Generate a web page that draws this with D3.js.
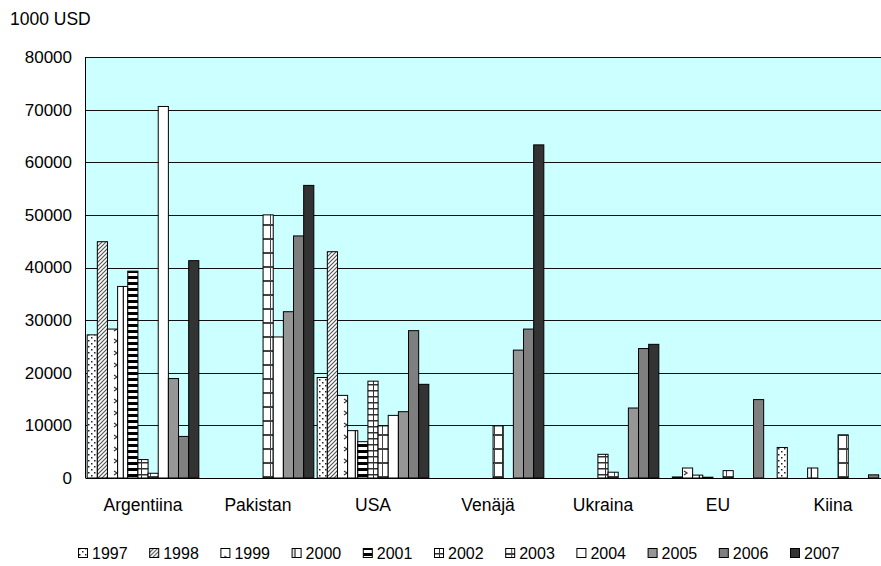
<!DOCTYPE html>
<html>
<head>
<meta charset="utf-8">
<script src="https://cdn.jsdelivr.net/npm/d3@7"></script>
<style>
  body { margin: 0; background: #fff; }
  svg { display: block; font-family: "Liberation Sans", Arial, sans-serif; }
</style>
</head>
<body>
<script>
const years = ["1997", "1998", "1999", "2000", "2001", "2002", "2003", "2004", "2005", "2006", "2007"]
const countries = ["Argentiina", "Pakistan", "USA", "Venäjä", "Ukraina", "EU", "Kiina"]

// values per country, one per year 1997..2007 (1000 USD)
const argentiina = [27200, 44900, 28300, 36400, 39300, 3500, 900, 70600, 18900, 7900, 41300]
const pakistan = [0, 0, 0, 0, 0, 0, 50000, 26800, 31600, 46000, 55600]
const usa = [19100, 43000, 15700, 9000, 6900, 18400, 9900, 11900, 12600, 28000, 17800]
const venaja = [0, 0, 0, 0, 0, 0, 9900, 0, 24300, 28300, 63300]
const ukraina = [0, 0, 0, 0, 0, 4500, 1100, 0, 13300, 24600, 25400]
const eu = [0, 200, 1900, 550, 150, 0, 1400, 0, 0, 14900, 0]
const kiina = [5800, 0, 0, 1900, 0, 0, 8200, 0, 0, 600, 0]

const yTicks = [0, 10000, 20000, 30000, 40000, 50000, 60000, 70000, 80000]

const values = [argentiina, pakistan, usa, venaja, ukraina, eu, kiina]
const dataset = []
countries.forEach((c, i) => {
    years.forEach((y, j) => {
        dataset.push({ country: c, year: y, value: values[i][j] })
    })
})

const w = 881
const h = 566
const pLeft = 85.5
const pTop = 57
const pBottom = 478
const groupW = 115

const svg = d3.select("body")
              .append("svg")
              .attr("width", w)
              .attr("height", h)

// fill patterns for the years
const defs = svg.append("defs")
const pat = (id, pw, ph, draw) => {
    const p = defs.append("pattern")
                  .attr("id", id)
                  .attr("patternUnits", "userSpaceOnUse")
                  .attr("width", pw)
                  .attr("height", ph)
    p.append("rect").attr("width", pw).attr("height", ph).attr("fill", "#fff")
    draw(p)
}
pat("p1997", 6, 6, (p) => {
    p.append("rect").attr("x", 1).attr("y", 1).attr("width", 1.5).attr("height", 1.5).attr("fill", "#222")
    p.append("rect").attr("x", 4).attr("y", 4).attr("width", 1.5).attr("height", 1.5).attr("fill", "#222")
})
pat("p1998", 4, 4, (p) => {
    p.append("path").attr("d", "M-1,5 L5,-1 M-1,1 L1,-1 M3,5 L5,3").attr("stroke", "#555").attr("stroke-width", 1.2)
})
pat("p1999", 10, 12, (p) => {
    p.append("path").attr("d", "M4,3 L7,5 L4,7").attr("fill", "none").attr("stroke", "#333").attr("stroke-width", 1.2)
})
pat("p2000", 8, 8, (p) => {
    p.append("rect").attr("x", 3).attr("y", 0).attr("width", 1).attr("height", 8).attr("fill", "#222")
    p.append("rect").attr("x", 2).attr("y", 0).attr("width", 1).attr("height", 8).attr("fill", "#bbb")
})
pat("p2001", 6, 6, (p) => {
    p.append("rect").attr("x", 0).attr("y", 0).attr("width", 6).attr("height", 3).attr("fill", "#000")
})
pat("p2002", 8, 6, (p) => {
    p.append("rect").attr("x", 0).attr("y", 0).attr("width", 8).attr("height", 1.5).attr("fill", "#333")
    p.append("rect").attr("x", 5).attr("y", 0).attr("width", 1).attr("height", 6).attr("fill", "#333")
})
pat("p2003", 8, 14, (p) => {
    p.append("rect").attr("x", 0).attr("y", 0).attr("width", 8).attr("height", 2).attr("fill", "#444")
    p.append("rect").attr("x", 6).attr("y", 0).attr("width", 1).attr("height", 14).attr("fill", "#444")
})

const fills = {
    "1997": "url(#p1997)", "1998": "url(#p1998)", "1999": "url(#p1999)",
    "2000": "url(#p2000)", "2001": "url(#p2001)", "2002": "url(#p2002)",
    "2003": "url(#p2003)", "2004": "#ffffff", "2005": "#969696",
    "2006": "#7f7f7f", "2007": "#333333"
}

const xScale = d3.scaleBand()
                 .domain(countries)
                 .range([pLeft, pLeft + groupW * countries.length])
const x1 = d3.scaleBand()
             .domain(years)
             .range([0, groupW])
             .paddingOuter(0.165)
const yScale = d3.scaleLinear()
                 .domain([0, 80000])
                 .range([pBottom, pTop])

// plot background
svg.append("rect")
   .attr("x", pLeft)
   .attr("y", pTop)
   .attr("width", w - pLeft)
   .attr("height", pBottom - pTop)
   .attr("fill", "#ccffff")

svg.append("g")
   .selectAll("line")
   .data(yTicks.filter((d) => d > 0))
   .enter()
   .append("line")
   .attr("x1", pLeft)
   .attr("x2", w)
   .attr("y1", (d) => Math.round(yScale(d)) + 0.5)
   .attr("y2", (d) => Math.round(yScale(d)) + 0.5)
   .attr("stroke", "#111")

svg.append("g")
   .selectAll("rect")
   .data(dataset.filter((d) => d.value > 0))
   .enter()
   .append("rect")
   .attr("x", (d) => xScale(d.country) + x1(d.year))
   .attr("y", (d) => yScale(d.value))
   .attr("width", x1.bandwidth())
   .attr("height", (d) => pBottom - yScale(d.value))
   .attr("fill", (d) => fills[d.year])
   .attr("stroke", "#000")
   .attr("stroke-width", 1)

// axes lines
svg.append("line")
   .attr("x1", pLeft).attr("x2", pLeft)
   .attr("y1", pTop).attr("y2", pBottom)
   .attr("stroke", "#000")
svg.append("line")
   .attr("x1", pLeft).attr("x2", w)
   .attr("y1", pBottom + 0.5).attr("y2", pBottom + 0.5)
   .attr("stroke", "#000")

svg.append("g")
   .selectAll("text")
   .data(yTicks)
   .enter()
   .append("text")
   .attr("x", 72)
   .attr("y", (d) => yScale(d))
   .attr("dy", "0.35em")
   .attr("text-anchor", "end")
   .style("font-size", "17px")
   .text((d) => d)

svg.append("g")
   .selectAll("text")
   .data(countries)
   .enter()
   .append("text")
   .attr("x", (d) => xScale(d) + groupW / 2)
   .attr("y", 505)
   .attr("dy", "0.35em")
   .attr("text-anchor", "middle")
   .style("font-size", "17.5px")
   .text((d) => d)

svg.append("text")
   .attr("x", 10)
   .attr("y", 19)
   .attr("dy", "0.35em")
   .style("font-size", "17.5px")
   .text("1000 USD")

// legend
const legend = svg.append("g")
                  .selectAll("g")
                  .data(years)
                  .enter()
                  .append("g")
                  .attr("transform", (d, i) => "translate(" + (78 + i * 71.2) + ", 553)")
legend.append("rect")
      .attr("x", 0.5)
      .attr("y", -4.5)
      .attr("width", 9)
      .attr("height", 9)
      .attr("fill", (d) => fills[d])
      .attr("stroke", "#000")
legend.append("text")
      .attr("x", 14)
      .attr("y", 0)
      .attr("dy", "0.35em")
      .style("font-size", "16px")
      .text((d) => d)
</script>
</body>
</html>
